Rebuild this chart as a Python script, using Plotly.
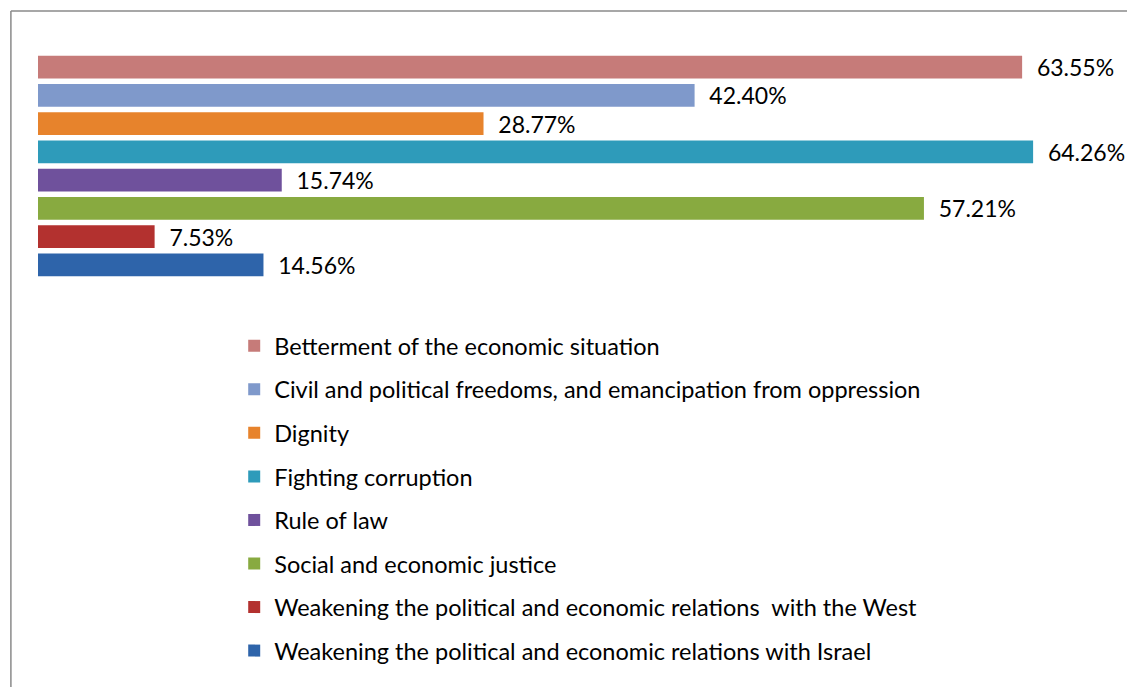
import plotly.graph_objects as go

# ── Data ─────────────────────────────────────────────────────────────────────

categories = [
    "Betterment of the economic situation",
    "Civil and political freedoms, and emancipation from oppression",
    "Dignity",
    "Fighting corruption",
    "Rule of law",
    "Social and economic justice",
    "Weakening the political and economic relations  with the West",
    "Weakening the political and economic relations with Israel",
]
shares = [63.55, 42.40, 28.77, 64.26, 15.74, 57.21, 7.53, 14.56]
colors = ["#C67B79", "#7F99CB", "#E7832C", "#2E9BBA",
          "#6F519C", "#88AA40", "#B3312F", "#2E64AA"]

FONT = "Lato"

fig = go.Figure()
for i, (name, val, col) in enumerate(zip(categories, shares, colors)):
    fig.add_trace(go.Bar(
        x=[val], y=[name], name=name, orientation="h",
        marker=dict(color=col, line=dict(width=0)),
        text=[val], texttemplate="\u00a0\u00a0%{x:.2f}%",
        textposition="outside", cliponaxis=False, constraintext="none",
        textfont=dict(family=FONT, size=23, color="#000000"),
        legendgroup=f"g{i}", hoverinfo="x+name",
    ))

# chart border (Excel-style frame, top and left visible)
fig.add_shape(type="line", xref="paper", yref="paper",
              x0=-0.025, x1=1.2, y0=1.186, y1=1.186,
              line=dict(color="#8A8A8A", width=1.5))
fig.add_shape(type="line", xref="paper", yref="paper",
              x0=-0.025, x1=-0.025, y0=1.186, y1=-3,
              line=dict(color="#8A8A8A", width=1.5))

fig.update_layout(
    width=1127, height=710,
    margin=dict(l=30, r=13, t=45, b=439),
    barmode="relative", bargap=0.19,
    paper_bgcolor="white", plot_bgcolor="white",
    font=dict(family=FONT, size=23, color="#000000"),
    xaxis=dict(range=[0, 70], visible=False),
    yaxis=dict(autorange="reversed", visible=False),
    showlegend=True,
    legend=dict(
        x=0.181, y=-0.199, xanchor="left", yanchor="top",
        traceorder="grouped", tracegroupgap=10,
        font=dict(family=FONT, size=23.5, color="#000000"),
        itemwidth=30,
    ),
)

fig.write_html("out.html")
